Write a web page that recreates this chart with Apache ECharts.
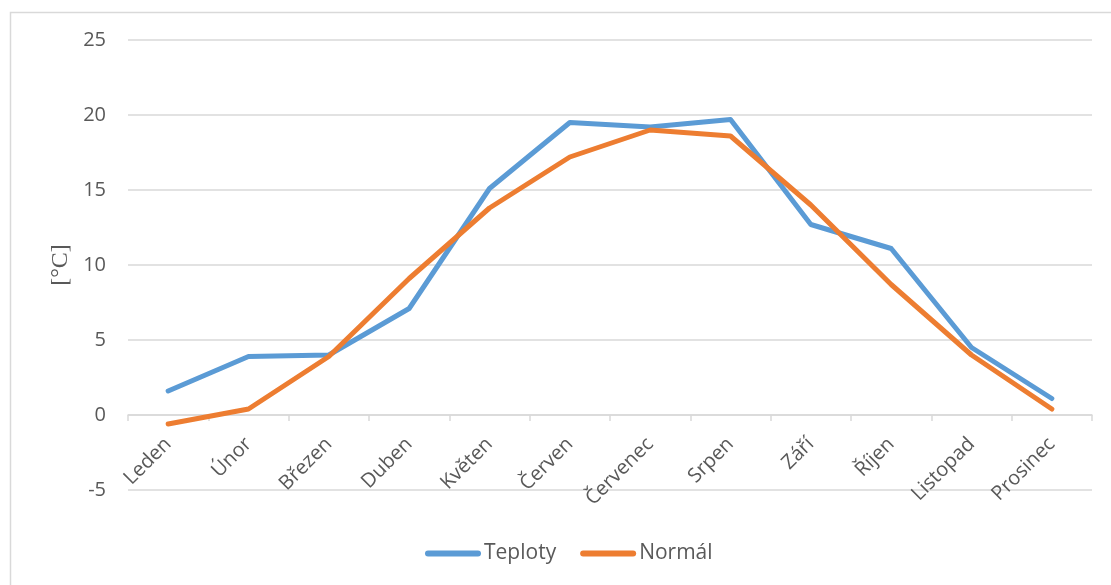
<!DOCTYPE html>
<html>
<head>
<meta charset="utf-8">
<script src="https://cdn.jsdelivr.net/npm/echarts@6/dist/echarts.min.js"></script>
<style>
  html, body { margin: 0; padding: 0; background: #ffffff; }
  #chart { width: 1111px; height: 585px; }
</style>
</head>
<body>
<div id="chart"></div>
<script>
// Monthly mean temperatures vs. long-term normal
const months = ['Leden', 'Únor', 'Březen', 'Duben', 'Květen', 'Červen',
                'Červenec', 'Srpen', 'Září', 'Říjen', 'Listopad', 'Prosinec'];
const teploty = [1.6, 3.9, 4.0, 7.1, 15.1, 19.5, 19.2, 19.7, 12.7, 11.1, 4.5, 1.1];
const normal  = [-0.6, 0.4, 3.9, 9.1, 13.8, 17.2, 19.0, 18.6, 14.0, 8.7, 4.0, 0.4];
const yMin = -5, yMax = 25, yStep = 5;

const textColor = '#595959';
const gridColor = '#d9d9d9';
const font = '"Open Sans", sans-serif';

const gridTop = 40, gridBottom = 95;
const plotH = 585 - gridTop - gridBottom;
// shift the category axis up so it sits on the zero line
const zeroOffset = -plotH * (0 - yMin) / (yMax - yMin);

const legendLine = 'path://M3,0 L53,0 A3,3 0 0 1 53,6 L3,6 A3,3 0 0 1 3,0 Z';

const chart = echarts.init(document.getElementById('chart'), null, { renderer: 'canvas' });
chart.setOption({
  backgroundColor: '#ffffff',
  animation: false,
  graphic: [{
    type: 'rect',
    left: 8, top: 10,
    shape: { width: 1200, height: 700 },
    style: { fill: 'none', stroke: '#d9d9d9', lineWidth: 1.5 },
    silent: true
  }],
  grid: { left: 128, right: 19, top: gridTop, bottom: gridBottom, containLabel: false },
  legend: {
    top: 538,
    left: 420,
    icon: legendLine,
    itemWidth: 56,
    itemHeight: 6,
    itemGap: 24,
    textStyle: { color: textColor, fontSize: 21, fontFamily: font, padding: [0, 0, 0, -2] },
    data: ['Teploty', 'Normál']
  },
  xAxis: {
    type: 'category',
    data: months,
    boundaryGap: true,
    position: 'bottom',
    offset: zeroOffset,
    axisLine: { onZero: false, lineStyle: { color: gridColor, width: 1.5 } },
    axisTick: { show: true, length: 6, lineStyle: { color: gridColor, width: 1.5 } },
    axisLabel: { rotate: 45, margin: 26, color: textColor, fontSize: 20, fontFamily: font, interval: 0 },
    splitLine: { show: false }
  },
  yAxis: {
    type: 'value',
    min: yMin, max: yMax, interval: yStep,
    name: '[°C]',
    nameLocation: 'middle',
    nameGap: 52,
    nameTextStyle: { color: textColor, fontSize: 24, fontFamily: '"Liberation Serif", serif' },
    axisLine: { show: false },
    axisTick: { show: false },
    axisLabel: { margin: 22, color: textColor, fontSize: 20, fontFamily: font },
    splitLine: { lineStyle: { color: gridColor, width: 1.5 } }
  },
  series: [
    {
      name: 'Teploty', type: 'line', data: teploty,
      symbol: 'none', showSymbol: false,
      itemStyle: { color: '#5B9BD5' },
      lineStyle: { color: '#5B9BD5', width: 5, cap: 'round', join: 'round' }
    },
    {
      name: 'Normál', type: 'line', data: normal,
      symbol: 'none', showSymbol: false,
      itemStyle: { color: '#ED7D31' },
      lineStyle: { color: '#ED7D31', width: 5, cap: 'round', join: 'round' }
    }
  ]
});
</script>
</body>
</html>
